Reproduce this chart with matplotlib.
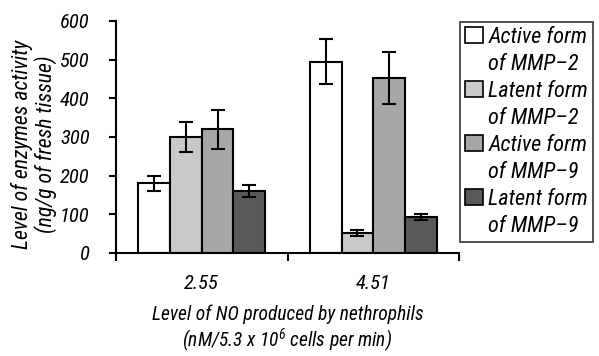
import matplotlib
matplotlib.use("Agg")
import matplotlib.pyplot as plt
from matplotlib import font_manager
from matplotlib.patches import Patch
import numpy as np

avail = {}
for f in font_manager.fontManager.ttflist:
    avail.setdefault(f.name, set()).add(f.style)
fam = 'DejaVu Sans'
for cand in ['Liberation Sans Narrow', 'Arial Narrow', 'Roboto Condensed', 'Archivo Narrow',
             'PT Sans Narrow', 'Open Sans Condensed', 'Asap Condensed', 'Barlow Condensed']:
    if cand in avail and 'italic' in avail[cand]:
        fam = cand
        break
plt.rcParams['font.family'] = [fam, 'DejaVu Sans']
plt.rcParams['font.style'] = 'italic'
plt.rcParams['mathtext.fontset'] = 'custom'
plt.rcParams['mathtext.it'] = fam + ':italic'
plt.rcParams['mathtext.rm'] = fam + ':italic'

categories = ["2.55", "4.51"]
series = ["Active form\nof MMP\u20132", "Latent form\nof MMP\u20132",
          "Active form\nof MMP\u20139", "Latent form\nof MMP\u20139"]
values = [[180, 495], [300, 52], [320, 452], [160, 93]]
errors = [[20, 58], [40, 8], [50, 67], [16, 7]]
colors = ["#ffffff", "#c8c9cb", "#a6a7a9", "#58595b"]
y_ticks = [0, 100, 200, 300, 400, 500, 600]
ylabel = "Level of enzymes activity\n(ng/g of fresh tissue)"
xlabel = "Level of NO produced by nethrophils\n(nM/5.3 x 10$^{6}$ cells per min)"

W, H = 599, 356
fig = plt.figure(figsize=(W / 100, H / 100), dpi=100)
renderer = fig.canvas.get_renderer()


def fit_size(s, target_px, base=15):
    t = fig.text(0, 0, s, fontsize=base)
    w = t.get_window_extent(renderer).width
    t.remove()
    return base * target_px / w


ysz = fit_size("Level of enzymes activity", 210)
xsz = fit_size("Level of NO produced by nethrophils", 272)
lsz = fit_size("Active form", 99)
tsz = fit_size("2.55", 35)

ax = fig.add_axes([116 / W, 1 - 253 / H, 343 / W, 232 / H])

x = np.arange(len(categories)) + 0.5
bw = 0.185
for i, (vals, errs, c) in enumerate(zip(values, errors, colors)):
    pos = x + (i - 1.5) * bw
    ax.bar(pos, vals, bw, color=c, edgecolor='black', linewidth=1.5, zorder=2)
    ax.errorbar(pos, vals, yerr=errs, fmt='none', ecolor='black',
                elinewidth=1.5, capsize=4.8, capthick=1.5, zorder=3)

ax.set_xlim(0, len(categories))
ax.set_ylim(0, 600)
ax.set_yticks(y_ticks)
ax.set_yticklabels([str(t) for t in y_ticks], fontsize=tsz)
ax.set_xticks([0, 1, 2])
ax.set_xticklabels([])
ax.set_xticks(x, minor=True)
ax.set_xticklabels(categories, minor=True, fontsize=tsz)
ax.tick_params(axis='x', which='minor', length=0, pad=15)
ax.tick_params(axis='x', which='major', direction='out', length=6, width=1.5)
ax.tick_params(axis='y', direction='out', length=5, width=1.5, pad=14)
for s in ['top', 'right']:
    ax.spines[s].set_visible(False)
for s in ['left', 'bottom']:
    ax.spines[s].set_linewidth(1.5)

ax.set_ylabel(ylabel, fontsize=ysz, linespacing=1.05)
ax.yaxis.set_label_coords(-0.165, 0.47)
ax.set_xlabel(xlabel, fontsize=xsz, linespacing=1.12, va='top')
ax.xaxis.set_label_coords(0.5, -0.215)

handles = []
labels = []
for s, c in zip(series, colors):
    l1, l2 = s.split("\n")
    handles.append(Patch(facecolor=c, edgecolor='black', linewidth=1.2))
    labels.append(l1)
    handles.append(Patch(facecolor='none', edgecolor='none'))
    labels.append(l2)
leg = fig.legend(handles, labels, loc='upper left', bbox_to_anchor=(460 / W, 1 - 22 / H),
                 fontsize=lsz, frameon=True, fancybox=False, edgecolor='black',
                 handlelength=0.8, handleheight=0.75, handletextpad=0.25,
                 labelspacing=0.27, borderpad=0.22, borderaxespad=0)
leg.get_frame().set_linewidth(1.2)

# place the axis labels where the reference has them (pixel targets, top-left origin)
fig.canvas.draw()
axh = 232.0
axw = 343.0
yb = ax.yaxis.label.get_window_extent(renderer)
ycx = (yb.x0 + yb.x1) / 2
ycy = H - (yb.y0 + yb.y1) / 2
lx, ly = ax.yaxis.label.get_position()
ax.yaxis.set_label_coords(-0.165 + (34 - ycx) / axw, 0.47 - (144 - ycy) / axh)
xb = ax.xaxis.label.get_window_extent(renderer)
xcy = H - (xb.y0 + xb.y1) / 2
ax.xaxis.set_label_coords(0.5, -0.215 - (330 - xcy) / axh)

fig.savefig("out.png", dpi=100)
